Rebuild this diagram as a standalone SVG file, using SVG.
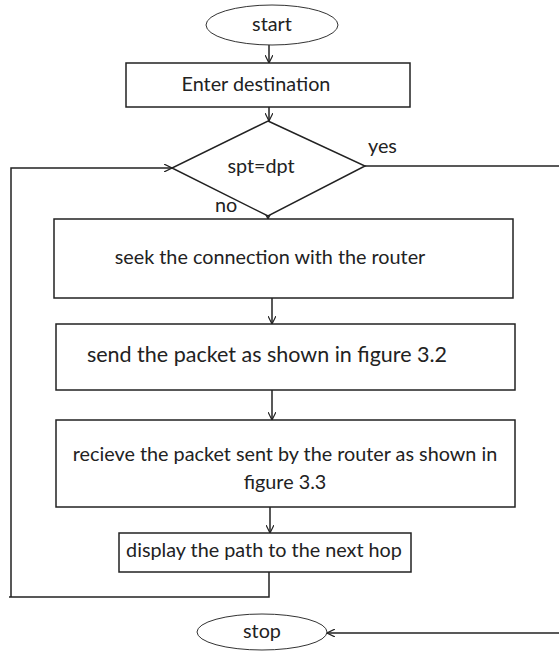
<svg xmlns="http://www.w3.org/2000/svg" width="559" height="651" viewBox="0 0 559 651">
<defs>
<style>
.box{fill:#fff;stroke:#222;stroke-width:1.5}
.ell{fill:#fff;stroke:#333;stroke-width:1}
.ln{fill:none;stroke:#222;stroke-width:1.5}
text{font-family:Lato,"Liberation Sans",sans-serif;font-size:19.8px;fill:#222}
.c{text-anchor:middle}
.big{font-size:21.5px}
</style>
<marker id="ah" viewBox="0 0 10 10" refX="10" refY="5" markerWidth="8" markerHeight="8" markerUnits="userSpaceOnUse" orient="auto">
<path d="M0,0 L10,5 L0,10" fill="none" stroke="#222" stroke-width="1.5"/>
</marker>
</defs>
<rect width="559" height="651" fill="#fff"/>
<g id="connectors">
<line class="ln" x1="269" y1="45" x2="269" y2="63" marker-end="url(#ah)"/>
<line class="ln" x1="269" y1="107" x2="269" y2="121" marker-end="url(#ah)"/>
<line class="ln" x1="268" y1="208" x2="268" y2="219" marker-end="url(#ah)"/>
<line class="ln" x1="272" y1="298" x2="272" y2="324" marker-end="url(#ah)"/>
<line class="ln" x1="272" y1="390" x2="272" y2="420" marker-end="url(#ah)"/>
<line class="ln" x1="270" y1="507" x2="270" y2="533" marker-end="url(#ah)"/>
<polyline class="ln" points="269,572 269,597 9,597"/>
<polyline class="ln" points="11,597 11,168 172,168" marker-end="url(#ah)"/>
<line class="ln" x1="365" y1="166" x2="559" y2="166"/>
<line class="ln" x1="559" y1="633" x2="327" y2="633" marker-end="url(#ah)"/>
<text x="368" y="153">yes</text>
<text x="215" y="212">no</text>
</g>
<g id="start">
<ellipse class="ell" cx="272" cy="25" rx="66" ry="20"/>
<text class="c" x="272" y="31">start</text>
</g>
<g id="enter">
<rect class="box" x="126" y="63" width="284" height="44"/>
<text class="c" x="256" y="91">Enter destination</text>
</g>
<g id="decision">
<polygon class="box" points="268,121 365,166 268,216 172,168"/>
<text class="c" x="261" y="173">spt=dpt</text>
</g>
<g id="seek">
<rect class="box" x="54" y="219" width="459" height="79"/>
<text class="c" x="270" y="264">seek the connection with the router</text>
</g>
<g id="send">
<rect class="box" x="56" y="324" width="459" height="66"/>
<text class="c big" x="267" y="362">send the packet as shown in figure 3.2</text>
</g>
<g id="receive">
<rect class="box" x="56" y="420" width="459" height="87"/>
<text class="c" x="285" y="461">recieve the packet sent by the router as shown in</text>
<text class="c" x="285" y="489">figure 3.3</text>
</g>
<g id="display">
<rect class="box" x="119" y="533" width="292" height="39"/>
<text class="c" x="264" y="557">display the path to the next hop</text>
</g>
<g id="stop">
<ellipse class="ell" cx="262" cy="632" rx="65" ry="18"/>
<text class="c" x="262" y="638">stop</text>
</g>
</svg>
